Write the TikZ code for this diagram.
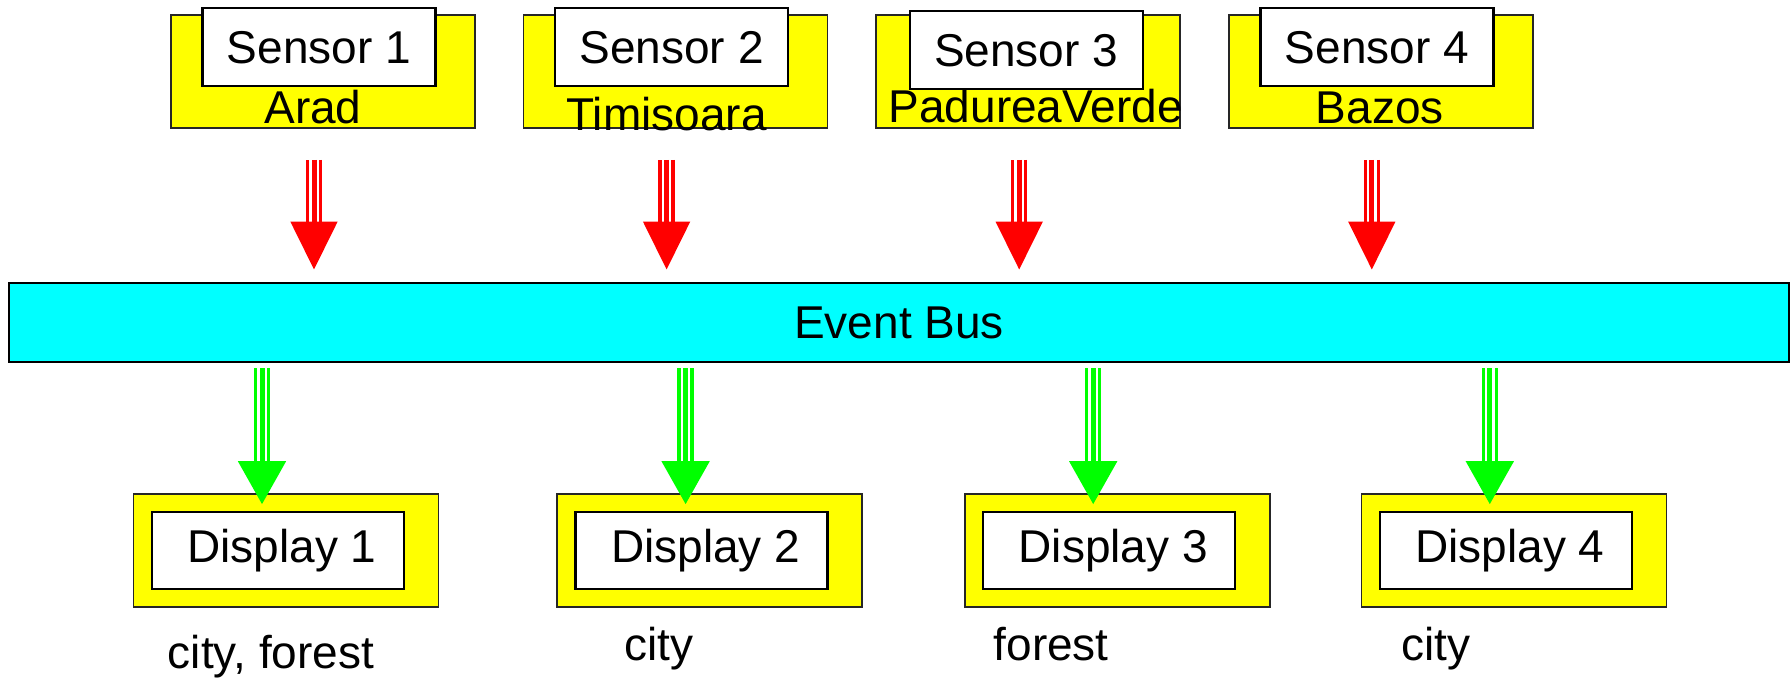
\documentclass[tikz,border=0pt]{standalone}
\usepackage{fontspec}
\setmainfont{Liberation Sans}
\usetikzlibrary{arrows.meta, positioning}
\definecolor{boxyellow}{RGB}{255,255,0}
\definecolor{buscyan}{RGB}{0,255,255}
\definecolor{inred}{RGB}{255,0,0}
\definecolor{outgreen}{RGB}{0,255,0}

\begin{document}
\begin{tikzpicture}[
  x=0.5pt, y=-0.5pt,
  node distance=23.5pt,
  frame/.style={rectangle, draw=black!85, line width=0.8pt, fill=boxyellow,
               minimum width=152pt, minimum height=56.5pt, inner sep=0pt},
  dframe/.style={frame, minimum width=152.5pt},
  tag/.style={rectangle, draw=black, line width=1.2pt, fill=white,
               minimum width=116.5pt, minimum height=39pt, inner sep=0pt,
               font=\fontsize{23}{27}\selectfont},
  dtag/.style={tag, minimum width=126pt, minimum height=38.5pt},
  place/.style={anchor=base, inner sep=0pt, font=\fontsize{23}{27}\selectfont},
  busbox/.style={rectangle, draw=black, line width=1.4pt, fill=buscyan,
               minimum width=890pt, minimum height=39.5pt,
               font=\fontsize{23}{27}\selectfont},
  rshaft/.style={draw=inred, line width=1.65pt, double=white, double distance=4.85pt,
               shorten <=15.5pt, shorten >=24pt},
  rarr/.style={draw=inred, line width=2.5pt, -{Triangle[width=23pt, length=24pt]},
               shorten <=15.5pt, shorten >=6pt},
  gshaft/.style={draw=outgreen, line width=1.65pt, double=white, double distance=4.85pt,
               shorten <=2.5pt, shorten >=11pt},
  garr/.style={draw=outgreen, line width=2.5pt, -{Triangle[width=23.5pt, length=21.5pt]},
               shorten <=2.5pt, shorten >=-5.5pt},
]
\useasboundingbox (0,0) rectangle (1791,677);

% sensors
\node[frame] (s1) at (323,71.5) {};
\node[frame, right=of s1] (s2) {};
\node[frame, right=of s2] (s3) {};
\node[frame, right=of s3] (s4) {};

\node[tag] (s1t) at ([xshift=-2pt, yshift=-16.5pt]s1.north) {Sensor 1};
\node[tag] (s2t) at ([xshift=-2pt, yshift=-16.5pt]s2.north) {Sensor 2};
\node[tag] (s3t) at ([xshift=-1pt, yshift=-18pt]s3.north)   {Sensor 3};
\node[tag] (s4t) at ([xshift=-2pt, yshift=-16.5pt]s4.north) {Sensor 4};

\node[place] (s1p) at ([xshift=-5pt, yshift=2.5pt]s1.south)   {Arad};
\node[place] (s2p) at ([xshift=-4.5pt, yshift=-1pt]s2.south)  {Timisoara};
\node[place] (s3p) at ([xshift=3.75pt, yshift=3pt]s3.south)   {PadureaVerde};
\node[place] (s4p) at ([xshift=-0.5pt, yshift=2.5pt]s4.south) {Bazos};

% bus
\node[busbox] (bus) at (899,322.5) {Event Bus};

% displays
\node[dframe] (d1) at (286,550.5) {};
\node[dframe, right=58.5pt of d1] (d2) {};
\node[dframe, right=50.5pt of d2] (d3) {};
\node[dframe, right=45pt of d3]   (d4) {};

\node[dtag] (d1t) at ([xshift=-4pt]d1.center) {\hspace*{4pt}Display 1};
\node[dtag] (d2t) at ([xshift=-4pt]d2.center) {\hspace*{4pt}Display 2};
\node[dtag] (d3t) at ([xshift=-4pt]d3.center) {\hspace*{4pt}Display 3};
\node[dtag] (d4t) at ([xshift=-4pt]d4.center) {\hspace*{4pt}Display 4};

\node[place] (d1f) at ([xshift=-7.5pt, yshift=-30.5pt]d1.south)  {city, forest};
\node[place] (d2f) at ([xshift=-25.5pt, yshift=-26.5pt]d2.south) {city};
\node[place] (d3f) at ([xshift=-33pt, yshift=-26.5pt]d3.south)   {forest};
\node[place] (d4f) at ([xshift=-39pt, yshift=-26.5pt]d4.south)   {city};

% sensors -> bus
\draw[rshaft] ([xshift=-4.5pt]s1.south) -- ([xshift=-4.5pt]s1.south |- bus.north);
\draw[rarr]   ([xshift=-4.5pt]s1.south) -- ([xshift=-4.5pt]s1.south |- bus.north);
\draw[rshaft] ([xshift=-4.5pt]s2.south) -- ([xshift=-4.5pt]s2.south |- bus.north);
\draw[rarr]   ([xshift=-4.5pt]s2.south) -- ([xshift=-4.5pt]s2.south |- bus.north);
\draw[rshaft] ([xshift=-4.5pt]s3.south) -- ([xshift=-4.5pt]s3.south |- bus.north);
\draw[rarr]   ([xshift=-4.5pt]s3.south) -- ([xshift=-4.5pt]s3.south |- bus.north);
\draw[rshaft] ([xshift=-4.5pt]s4.south) -- ([xshift=-4.5pt]s4.south |- bus.north);
\draw[rarr]   ([xshift=-4.5pt]s4.south) -- ([xshift=-4.5pt]s4.south |- bus.north);

% bus -> displays
\draw[gshaft] ([xshift=-12pt]d1.north |- bus.south) -- ([xshift=-12pt]d1.north);
\draw[garr]   ([xshift=-12pt]d1.north |- bus.south) -- ([xshift=-12pt]d1.north);
\draw[gshaft] ([xshift=-12pt]d2.north |- bus.south) -- ([xshift=-12pt]d2.north);
\draw[garr]   ([xshift=-12pt]d2.north |- bus.south) -- ([xshift=-12pt]d2.north);
\draw[gshaft] ([xshift=-12pt]d3.north |- bus.south) -- ([xshift=-12pt]d3.north);
\draw[garr]   ([xshift=-12pt]d3.north |- bus.south) -- ([xshift=-12pt]d3.north);
\draw[gshaft] ([xshift=-12pt]d4.north |- bus.south) -- ([xshift=-12pt]d4.north);
\draw[garr]   ([xshift=-12pt]d4.north |- bus.south) -- ([xshift=-12pt]d4.north);
\end{tikzpicture}
\end{document}
